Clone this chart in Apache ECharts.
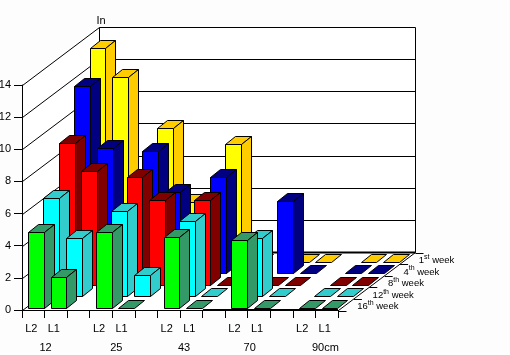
<!DOCTYPE html>
<html>
<head>
<meta charset="utf-8">
<style>html,body{margin:0;padding:0;background:#fdfdfd}#c{width:510px;height:355px}</style>
<script src="https://cdn.jsdelivr.net/npm/echarts@6/dist/echarts.min.js"></script>
</head>
<body>
<div id="c"></div>
<script>
// Data (inches) : each list holds L2, L1 for 12, 25, 43, 70 and 90 cm
const slotLabels = ['L2','L1','','L2','L1','','L2','L1','','L2','L1','','L2','L1'];
const groupLabels = ['','12','','','25','','','43','','','70','','','90cm',''];
const barSlots = [0,1,3,4,6,7,9,10,12,13];
const week1  = [13.3,11.5,8.3,3.7,7.3,0,0,0,0,0];
const week4  = [11.65,7.8,7.6,5.05,6.0,0,4.5,0,0,0];
const week8  = [8.8,7.05,6.7,5.3,5.3,0,0,0,0,0];
const week12 = [6.1,3.65,5.3,1.35,4.7,0,3.65,0,0,0];
const week16 = [4.7,1.9,4.7,0,4.4,0,4.2,0,0,0];
const weekNames = [['1','st'],['4','th'],['8','th'],['12','th'],['16','th']];
const yMax = 14, yStep = 2;

const faceColors = ['#ffff00','#0000ff','#ff0000','#00ffff','#00ff00'];
const sideColors = ['#ffcc00','#000080','#800000','#33cccc','#339966'];
const groupPad = {1:2,4:8,7:8,10:4,13:20};
const depthX = 77, depthY = 58, rows = 5;
const stepX = depthX/rows, stepY = depthY/rows;
const px = v => Math.round(v)+0.5;

function line(x1,y1,x2,y2,w){
  return {type:'line',silent:true,shape:{x1,y1,x2,y2},style:{stroke:'#000',lineWidth:w||1}};
}
function poly(points,fill){
  return {type:'polygon',silent:true,shape:{points},style:{fill,stroke:'#000',lineWidth:1}};
}

function renderFrame(params,api){
  const half=api.size([1,0])[0]/2;
  const y0=api.coord([0,0])[1], yT=api.coord([0,yMax])[1];
  const xa=px(api.coord([0,0])[0]-half), xb=px(api.coord([13,0])[0]+half);
  const yb=px(y0), yt=px(yT);
  const kids=[];
  kids.push({type:'polygon',silent:true,shape:{points:[[xa,yb],[xa,yt],[xa+depthX,yt-depthY],[xb+depthX,yt-depthY],[xb+depthX,yb-depthY],[xb,yb]]},style:{fill:'#fff'}});
  for(let v=0;v<=yMax;v+=yStep){
    const y=px(api.coord([0,v])[1]);
    kids.push(line(xa,y,xa+depthX,y-depthY));
    kids.push(line(xa+depthX,y-depthY,xb+depthX,y-depthY,v===0?2:1));
  }
  kids.push(line(xa+depthX,yt-depthY,xa+depthX,yb-depthY));
  kids.push(line(xb+depthX,yt-depthY,xb+depthX,yb-depthY));
  kids.push(line(xb,yb,xb+depthX,yb-depthY));
  for(let i=0;i<=rows;i++){
    const tx=xb+stepX*i, ty=yb-stepY*i;
    kids.push(line(tx,px(ty),tx+8,px(ty)));
  }
  weekNames.forEach((w,i)=>{
    const k=rows-i;
    kids.push({type:'text',silent:true,x:xb+stepX*(k-0.5)+11,y:yb-stepY*(k-0.5)+1,
      style:{text:'{n|'+w[0]+'}{s|'+w[1]+'}{n| week}',align:'left',verticalAlign:'middle',
        rich:{n:{font:'9.5px "Liberation Sans"',fill:'#000',verticalAlign:'bottom',lineHeight:12},
              s:{font:'7px "Liberation Sans"',fill:'#000',verticalAlign:'top',lineHeight:12}}}});
  });
  return {type:'group',children:kids};
}

function renderAxisEdge(params,api){
  // the heavier stretch of the base line, under the flat panels
  const half=api.size([1,0])[0]/2;
  const xs=Math.round(api.coord([8,0])[0]-half), xe=Math.round(api.coord([13,0])[0]+half);
  const y=Math.round(api.coord([0,0])[1])-0.5;
  return line(xs,y,xe,y);
}

function renderBars(row){
  return function(params,api){
    const slot=api.value(0), val=api.value(1);
    const c=api.coord([slot,0]), t=api.coord([slot,val]);
    const slotW=api.size([1,0])[0];
    const w=slotW*0.7, d=0.65;
    const off=rows-1-row+0.175;
    const xl=px(c[0]-w/2+off*stepX), xr=px(c[0]-w/2+off*stepX+w);
    const yb=px(c[1]-off*stepY), yt=px(t[1]-off*stepY);
    const dx=Math.round(d*stepX), dy=Math.round(d*stepY);
    const kids=[];
    kids.push(poly([[xl,yt],[xl+dx,yt-dy],[xr+dx,yt-dy],[xr,yt]],sideColors[row]));
    if(val>0){
      kids.push(poly([[xr,yb],[xr,yt],[xr+dx,yt-dy],[xr+dx,yb-dy]],sideColors[row]));
      kids.push(poly([[xl,yb],[xl,yt],[xr,yt],[xr,yb]],faceColors[row]));
    }
    return {type:'group',children:kids};
  };
}

const weeks=[week1,week4,week8,week12,week16];
const series=[{type:'custom',coordinateSystem:'cartesian2d',clip:false,silent:true,z:1,
  data:[[0,0]],renderItem:renderFrame}];
weeks.forEach((vals,row)=>{
  series.push({type:'custom',coordinateSystem:'cartesian2d',clip:false,silent:true,z:2+row,
    data:barSlots.map((s,i)=>[s,vals[i]]),encode:{x:0,y:1},renderItem:renderBars(row)});
});
series.push({type:'custom',coordinateSystem:'cartesian2d',clip:false,silent:true,z:9,
  data:[[0,0]],renderItem:renderAxisEdge});

const font={fontFamily:'Liberation Sans',fontSize:11,color:'#000'};
const chart=echarts.init(document.getElementById('c'),null,{renderer:'canvas'});
chart.setOption({
  animation:false,
  backgroundColor:'#fdfdfd',
  grid:{left:22,right:172,top:85,bottom:45,containLabel:false,outerBoundsMode:'none'},
  xAxis:[{
    type:'category',data:slotLabels,position:'bottom',z:20,
    axisLine:{show:true,lineStyle:{color:'#000',width:1}},
    axisTick:{show:true,alignWithLabel:false,interval:0,length:8,lineStyle:{color:'#000',width:1}},
    axisLabel:Object.assign({interval:0,margin:13,hideOverlap:false,padding:[0,4,0,0]},font),
    splitLine:{show:false}
  },{
    type:'category',position:'bottom',offset:24,boundaryGap:false,
    data:groupLabels.map((v,i)=>({value:v,textStyle:{padding:[0,0,0,groupPad[i]||0]}})),
    axisLine:{show:false},axisTick:{show:false},
    axisLabel:Object.assign({interval:0,margin:8,hideOverlap:false,showMinLabel:true,showMaxLabel:true},font),
    splitLine:{show:false}
  }],
  yAxis:{
    type:'value',min:0,max:yMax,interval:yStep,z:20,
    name:'In',nameLocation:'end',nameGap:59,
    nameTextStyle:Object.assign({padding:[0,0,0,158]},font),
    axisLine:{show:true,lineStyle:{color:'#000',width:1}},
    axisTick:{show:true,length:8,lineStyle:{color:'#000',width:1}},
    axisLabel:Object.assign({margin:11},font),
    splitLine:{show:false}
  },
  series
});
</script>
</body>
</html>
